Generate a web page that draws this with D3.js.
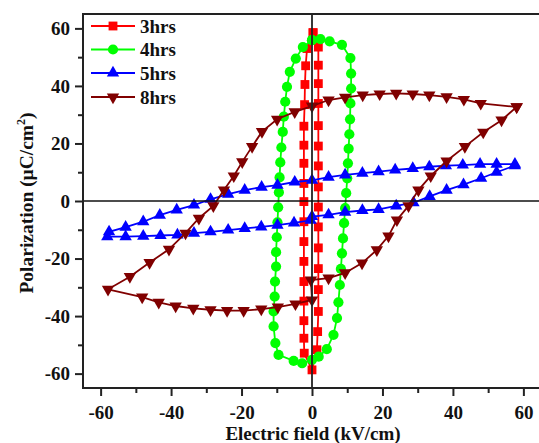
<!DOCTYPE html>
<html>
<head>
<meta charset="utf-8">
<script src="https://cdn.jsdelivr.net/npm/d3@7"></script>
<style>
  body { margin: 0; background: #fff; }
  svg { display: block; }
  text { font-family: "Liberation Serif", "Times New Roman", serif; font-weight: bold; fill: #111; }
</style>
</head>
<body>
<svg id="chart" width="539" height="443"></svg>
<script>
// series names (legend order)
var seriesNames = ["3hrs", "4hrs", "5hrs", "8hrs"];

// 3hrs - E (kV/cm) and P (uC/cm2)
var field3 = [0.3, 1.8, 1.8, 1.8, 1.8, 1.8, 1.8, 1.8, 1.8, 1.8, 1.8, 1.8, 1.8, 1.8, 1.8, 1.6, 1.4, 0,
  -2.2, -2.3, -2.3, -2.3, -2.3, -2.3, -2.3, -2.3, -2.3, -2.3, -2.3, -2.3, -2.3, -2.1, -2.0, -1.8, -1.4, 0.3];
var pol3 = [58.5, 53.5, 47.2, 40.8, 33.9, 26.2, 19.1, 12.2, 4.9, -2.1, -9.0, -16.3, -23.5, -30.8, -38.4, -45.4, -51.7, -58.7,
  -52.9, -47.7, -41.6, -34.8, -28.0, -21.0, -14.1, -7.2, -0.2, 6.1, 13.1, 19.4, 26.0, 33.5, 40.5, 47.0, 53.0, 58.5];

// 4hrs
var field4 = [0, 2.4, 5.0, 8.5, 10.9, 11.1, 11.1, 10.9, 10.8, 10.6, 10.4, 10.2, 10.0, 9.7, 9.4, 9.1, 8.8, 8.5, 8.2, 7.9,
  7.5, 7.1, 6.1, 4.2, 1.9, 0, -2.8, -5.2, -9.5, -10.4, -10.9, -10.9, -10.6, -10.5, -10.2, -10.2, -10.0, -9.8, -9.6,
  -9.4, -9.2, -9.0, -8.7, -8.3, -8.0, -7.6, -7.1, -6.3, -4.6, -2.6, 0];
var pol4 = [55.9, 56.3, 55.5, 54.3, 49.7, 44.3, 39.1, 33.9, 28.4, 23.2, 18.2, 13.1, 7.9, 2.7, -2.5, -7.7, -13.0, -18.2,
  -23.6, -29.2, -35.2, -40.7, -46.5, -51.5, -54.1, -55.2, -56.4, -55.6, -53.5, -49.4, -43.6, -38.4, -33.2, -28.0,
  -22.8, -17.8, -12.6, -7.4, -2.2, 3.0, 8.2, 13.4, 18.6, 24.0, 29.3, 34.5, 39.7, 44.9, 49.5, 53.5, 55.9];

// 5hrs
var field5 = [57.6, 52.4, 47.7, 42.8, 38.0, 33.3, 28.6, 23.6, 18.9, 14.3, 9.4, 4.7, 0, -4.9, -9.8, -14.3, -19.1, -23.8,
  -28.8, -33.5, -38.4, -43.2, -47.9, -52.9, -57.6, -58.1,
  -52.9, -47.9, -43.0, -38.2, -33.5, -28.8, -23.8, -19.1, -14.4, -9.8, -5.1, -0.4, 0, 4.7, 9.4, 14.3, 18.9, 23.9,
  28.8, 33.4, 38.2, 43.0, 48.0, 52.4, 57.6];
var pol5 = [12.8, 12.8, 12.8, 12.5, 12.3, 11.9, 11.3, 10.8, 10.2, 9.7, 9.1, 8.3, 7.2, 6.6, 5.5, 4.8, 3.8, 2.4,
  0.6, -1.4, -3.1, -4.9, -7.2, -9.1, -10.7, -12.4,
  -12.4, -12.2, -12.0, -11.8, -11.2, -10.7, -10.1, -9.5, -9.0, -8.4, -7.6, -6.7, -5.4, -4.8, -3.9, -3.3, -2.9, -1.7,
  -0.6, 1.6, 3.8, 5.7, 7.9, 10.0, 12.3];

// 8hrs
var field8 = [58.1, 47.9, 43.1, 38.2, 33.3, 28.6, 23.9, 19.2, 14.4, 9.4, 4.7, 0, -4.9, -9.9, -14.2, -17.0, -19.8,
  -22.2, -25.0, -28.0, -32.1, -35.9, -40.6, -46.1, -51.7, -57.9,
  -48.2, -43.5, -38.7, -33.7, -28.8, -24.1, -19.4, -14.4, -9.7, -4.7, 0, -0.3, 4.7, 9.4, 14.2, 18.4, 21.7, 24.1,
  27.4, 30.2, 33.7, 38.2, 43.4, 48.6, 53.8, 58.1];
var pol8 = [32.7, 33.9, 35.3, 36.2, 36.8, 37.2, 37.4, 37.2, 36.8, 36.0, 35.1, 33.0, 31.0, 28.4, 24.1, 18.9, 13.6,
  8.7, 3.8, -1.7, -6.0, -11.2, -16.8, -21.4, -26.3, -30.7,
  -33.4, -35.2, -36.5, -37.3, -37.8, -38.1, -38.1, -37.6, -36.9, -35.8, -34.4, -27.5, -26.8, -25.0, -21.6, -17.0,
  -12.2, -6.6, -1.7, 3.8, 8.7, 13.9, 18.9, 23.9, 28.1, 32.7];

// axis ticks
var xMajorTicks = [-60, -40, -20, 0, 20, 40, 60];
var xMinorTicks = [-50, -30, -10, 10, 30, 50];
var yMajorTicks = [-60, -40, -20, 0, 20, 40, 60];
var yMinorTicks = [-50, -30, -10, 10, 30, 50];

var svg = d3.select("#chart");
var plotLeft = 83, plotRight = 541, plotTop = 14, plotBottom = 388;

var x = d3.scaleLinear().domain([-65, 65]).range([plotLeft, plotRight]);
var y = d3.scaleLinear().domain([-65, 65]).range([plotBottom, plotTop]);

var series = [
  { name: seriesNames[0], xs: field3, ys: pol3, color: "#ff0000", shape: d3.symbolSquare, size: 78, rot: 0 },
  { name: seriesNames[1], xs: field4, ys: pol4, color: "#00ff00", shape: d3.symbolCircle, size: 82, rot: 0 },
  { name: seriesNames[2], xs: field5, ys: pol5, color: "#0000ff", shape: d3.symbolTriangle, size: 66, rot: 0 },
  { name: seriesNames[3], xs: field8, ys: pol8, color: "#800000", shape: d3.symbolTriangle, size: 66, rot: 180 }
];

var line = d3.line().x(d => x(d[0])).y(d => y(d[1])).curve(d3.curveLinear);

series.forEach(function (s) {
  var pts = s.xs.map((v, i) => [v, s.ys[i]]);
  var g = svg.append("g").attr("class", "series");
  g.append("path")
    .attr("d", line(pts))
    .attr("fill", "none")
    .attr("stroke", s.color)
    .attr("stroke-width", 1.8);
  g.selectAll(".mk").data(pts).enter()
    .append("path")
    .attr("class", "mk")
    .attr("d", d3.symbol().type(s.shape).size(s.size))
    .attr("transform", d => "translate(" + x(d[0]) + "," + y(d[1]) + ") rotate(" + s.rot + ")")
    .attr("fill", s.color);
});

// zero lines
svg.append("line")
  .attr("x1", x(0)).attr("x2", x(0)).attr("y1", plotTop).attr("y2", plotBottom)
  .attr("stroke", "#222").attr("stroke-width", 1.8);
svg.append("line")
  .attr("x1", plotLeft).attr("x2", plotRight).attr("y1", y(0)).attr("y2", y(0))
  .attr("stroke", "#111").attr("stroke-width", 1.6);

// frame
svg.append("rect")
  .attr("x", plotLeft).attr("y", plotTop)
  .attr("width", plotRight - plotLeft).attr("height", plotBottom - plotTop)
  .attr("fill", "none").attr("stroke", "#222").attr("stroke-width", 2);

// axes
svg.append("g")
  .attr("transform", "translate(0," + plotBottom + ")")
  .call(d3.axisBottom(x).tickValues(xMajorTicks).tickSize(8).tickSizeOuter(0).tickPadding(10)
    .tickFormat(d => String(d)));
svg.append("g")
  .attr("transform", "translate(0," + plotBottom + ")")
  .call(d3.axisBottom(x).tickValues(xMinorTicks).tickSize(5).tickSizeOuter(0).tickFormat(""));

svg.append("g")
  .attr("transform", "translate(" + plotLeft + ",0)")
  .call(d3.axisLeft(y).tickValues(yMajorTicks).tickSize(8).tickSizeOuter(0).tickPadding(5)
    .tickFormat(d => String(d)));
svg.append("g")
  .attr("transform", "translate(" + plotLeft + ",0)")
  .call(d3.axisLeft(y).tickValues(yMinorTicks).tickSize(5).tickSizeOuter(0).tickFormat(""));

svg.selectAll(".domain").remove();
svg.selectAll(".tick line").attr("stroke", "#222").attr("stroke-width", 2);
svg.selectAll(".tick text")
  .attr("fill", "#111")
  .style("font-family", "'Liberation Serif', serif")
  .style("font-weight", "bold")
  .style("font-size", "19px");

// axis titles
svg.append("text")
  .attr("x", 313).attr("y", 440)
  .attr("text-anchor", "middle")
  .style("font-size", "19px")
  .text("Electric field (kV/cm)");

var yt = svg.append("text")
  .attr("transform", "translate(33,203) rotate(-90)")
  .attr("text-anchor", "middle")
  .style("font-size", "19.5px");
yt.append("tspan").text("Polarization (\u03bcC/cm");
yt.append("tspan").attr("dy", -8).style("font-size", "12px").text("2");
yt.append("tspan").attr("dy", 8).text(")");

// legend
var legendY = [26, 49.5, 73, 97];
var lg = svg.append("g").attr("class", "legend");
series.forEach(function (s, i) {
  var ly = legendY[i];
  lg.append("line")
    .attr("x1", 91).attr("x2", 135).attr("y1", ly).attr("y2", ly)
    .attr("stroke", s.color).attr("stroke-width", 2);
  lg.append("path")
    .attr("d", d3.symbol().type(s.shape).size(s.size))
    .attr("transform", "translate(113," + ly + ") rotate(" + s.rot + ")")
    .attr("fill", s.color);
  lg.append("text")
    .attr("x", 140).attr("y", ly).attr("dy", "0.35em")
    .style("font-size", "19px")
    .text(s.name);
});
</script>
</body>
</html>
